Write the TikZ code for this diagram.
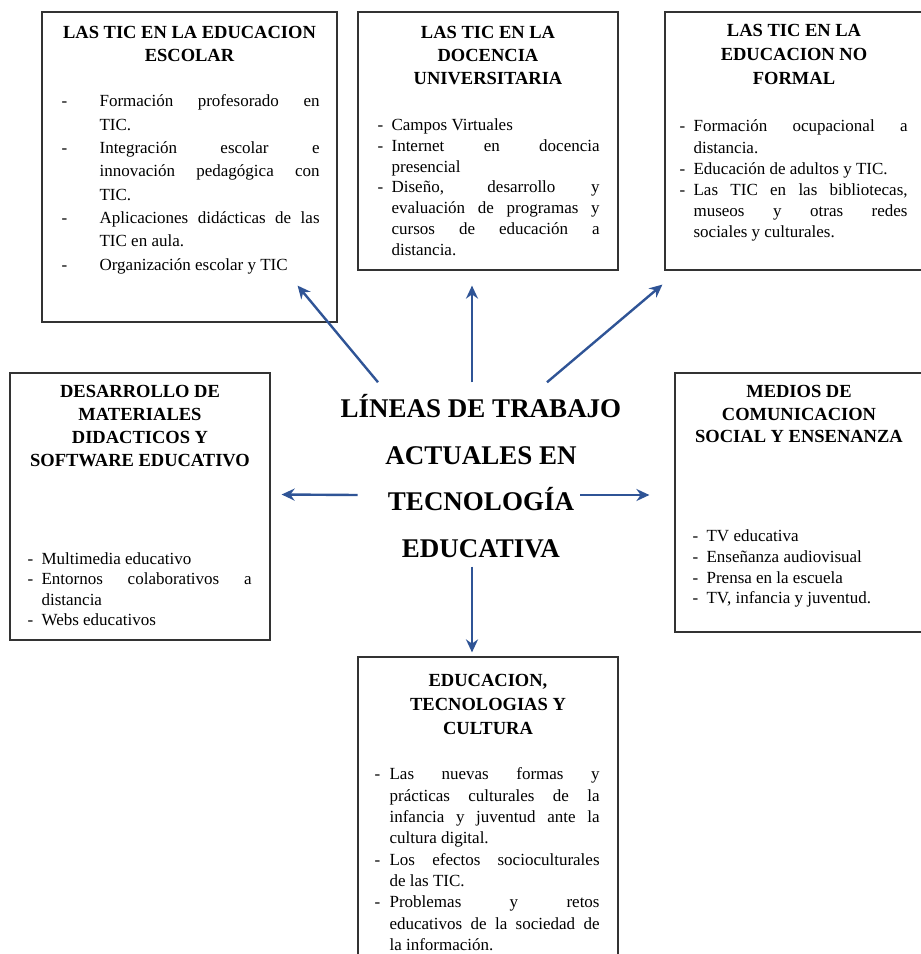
\documentclass[tikz,border=0pt]{standalone}
\usepackage{fontspec}
\setmainfont{Liberation Serif}
\usepackage{xcolor}
\usetikzlibrary{positioning}
\usetikzlibrary{arrows.meta,calc}

\definecolor{linkblue}{RGB}{47,84,150}
\newcommand{\dashitem}[2][14pt]{\par\tolerance=10000\hyphenpenalty=10000\noindent\hangindent=#1\hangafter=1\makebox[#1][l]{-}#2\par}

\begin{document}
\begin{tikzpicture}[
x=1pt, y=-1pt,
>={Stealth[length=13pt,width=12pt]},
card/.style={rectangle, draw=black!80, line width=1.2pt, inner sep=0pt},
head/.style={align=center, inner sep=0pt, font=\bfseries\fontsize{18.5}{23}\selectfont},
items/.style={text width=#1, align=justify, inner sep=0pt, font=\fontsize{17}{20.5}\selectfont},
hub/.style={align=center, inner sep=0pt, font=\bfseries\fontsize{27}{46.5}\selectfont},
link/.style={->, draw=linkblue, line width=2.4pt}]
\useasboundingbox (0,0) rectangle (921,954);
% boxes
\node [card, minimum width=295pt, minimum height=310pt] (tl) at (189.5,167) {};
\node [card, minimum width=260pt, minimum height=258pt] (tm) at (488,141) {};
\node [card, minimum width=258pt, minimum height=258pt] (tr) at (794,141) {};
\node [card, minimum width=260pt, minimum height=267pt] (dm) at (140,506.5) {};
\node [card, minimum width=248pt, minimum height=259pt] (mc) at (799,502.5) {};
\node [card, minimum width=260pt, minimum height=303pt] (ec) at (488,808.5) {};
% centre
\node [hub] (lineas) at (481,476) {LÍNEAS DE TRABAJO\\ACTUALES EN\\TECNOLOGÍA\\EDUCATIVA};
% headings
\node [head] (tlhead) [below=15pt of tl.north] {LAS TIC EN LA EDUCACION\\ESCOLAR};
\node [head] (tmhead) [below=15pt of tm.north] {LAS TIC EN LA\\DOCENCIA\\UNIVERSITARIA};
\node [head, font=\bfseries\fontsize{18.5}{24}\selectfont] (trhead) [below=13pt of tr.north] {LAS TIC EN LA\\EDUCACION NO\\FORMAL};
\node [head] (dmhead) [below=13pt of dm.north] {DESARROLLO DE\\MATERIALES\\DIDACTICOS Y\\SOFTWARE EDUCATIVO};
\node [head, font=\bfseries\fontsize{18.5}{22.5}\selectfont] (mchead) [below=13pt of mc.north] {MEDIOS DE\\COMUNICACION\\SOCIAL Y ENSENANZA};
\node [head, font=\bfseries\fontsize{18.5}{24}\selectfont] (echead) [below=18pt of ec.north] {EDUCACION,\\TECNOLOGIAS Y\\CULTURA};
% lists
\node [items=258pt, font=\fontsize{17}{23.3}\selectfont] (tllist) [below right=72pt and 20pt of tl.north west] {%
\dashitem[38pt]{Formación profesorado en\linebreak TIC.}
\dashitem[38pt]{Integración escolar e\linebreak innovación pedagógica con\linebreak TIC.}
\dashitem[38pt]{Aplicaciones didácticas de las\linebreak TIC en aula.}
\dashitem[38pt]{Organización escolar y TIC}};
\node [items=222pt, font=\fontsize{17}{20.8}\selectfont] (tmlist) [below right=98pt and 20pt of tm.north west] {%
\dashitem{Campos Virtuales}
\dashitem{Internet en docencia\linebreak presencial}
\dashitem{Diseño, desarrollo y\linebreak evaluación de programas y\linebreak cursos de educación a\linebreak distancia.}};
\node [items=228pt, font=\fontsize{17}{21.2}\selectfont] (trlist) [below right=99pt and 15pt of tr.north west] {%
\dashitem{Formación ocupacional a\linebreak distancia.}
\dashitem{Educación de adultos y TIC.}
\dashitem{Las TIC en las bibliotecas,\linebreak museos y otras redes\linebreak sociales y culturales.}};
\node [items=224pt, font=\fontsize{17}{20.5}\selectfont] (dmlist) [below right=171pt and 18pt of dm.north west] {%
\dashitem{Multimedia educativo}
\dashitem{Entornos colaborativos a\linebreak distancia}
\dashitem{Webs educativos}};
\node [items=210pt, font=\fontsize{17}{20.8}\selectfont] (mclist) [below right=148pt and 18pt of mc.north west] {%
\dashitem{TV educativa}
\dashitem{Enseñanza audiovisual}
\dashitem{Prensa en la escuela}
\dashitem{TV, infancia y juventud.}};
\node [items=225pt, font=\fontsize{17}{21.3}\selectfont] (eclist) [below right=102pt and 17pt of ec.north west] {%
\dashitem[15pt]{Las nuevas formas y\linebreak prácticas culturales de la\linebreak infancia y juventud ante la\linebreak cultura digital.}
\dashitem[15pt]{Los efectos socioculturales\linebreak de las TIC.}
\dashitem[15pt]{Problemas y retos\linebreak educativos de la sociedad de\linebreak la información.}};
% arrows
\draw [link] ($(lineas.north)+(-103,-12)$) -- ($(tl.south east)+(-40,-37)$);
\draw [link] ($(lineas.north)+(-9,-12)$) -- ($(tm.south)+(-16,15)$);
\draw [link] ($(lineas.north)+(66,-12)$) -- ($(tr.south west)+(-2,14)$);
\draw [link] ($(lineas.west)+(17,19)$) -- ($(dm.east)+(11,-12)$);
\draw [link] ($(lineas.east)+(-41,19)$) -- ($(mc.west)+(-25,-7.5)$);
\draw [link] ($(lineas.south)+(-9,9)$) -- ($(ec.north)+(-16,-4)$);
\end{tikzpicture}
\end{document}
